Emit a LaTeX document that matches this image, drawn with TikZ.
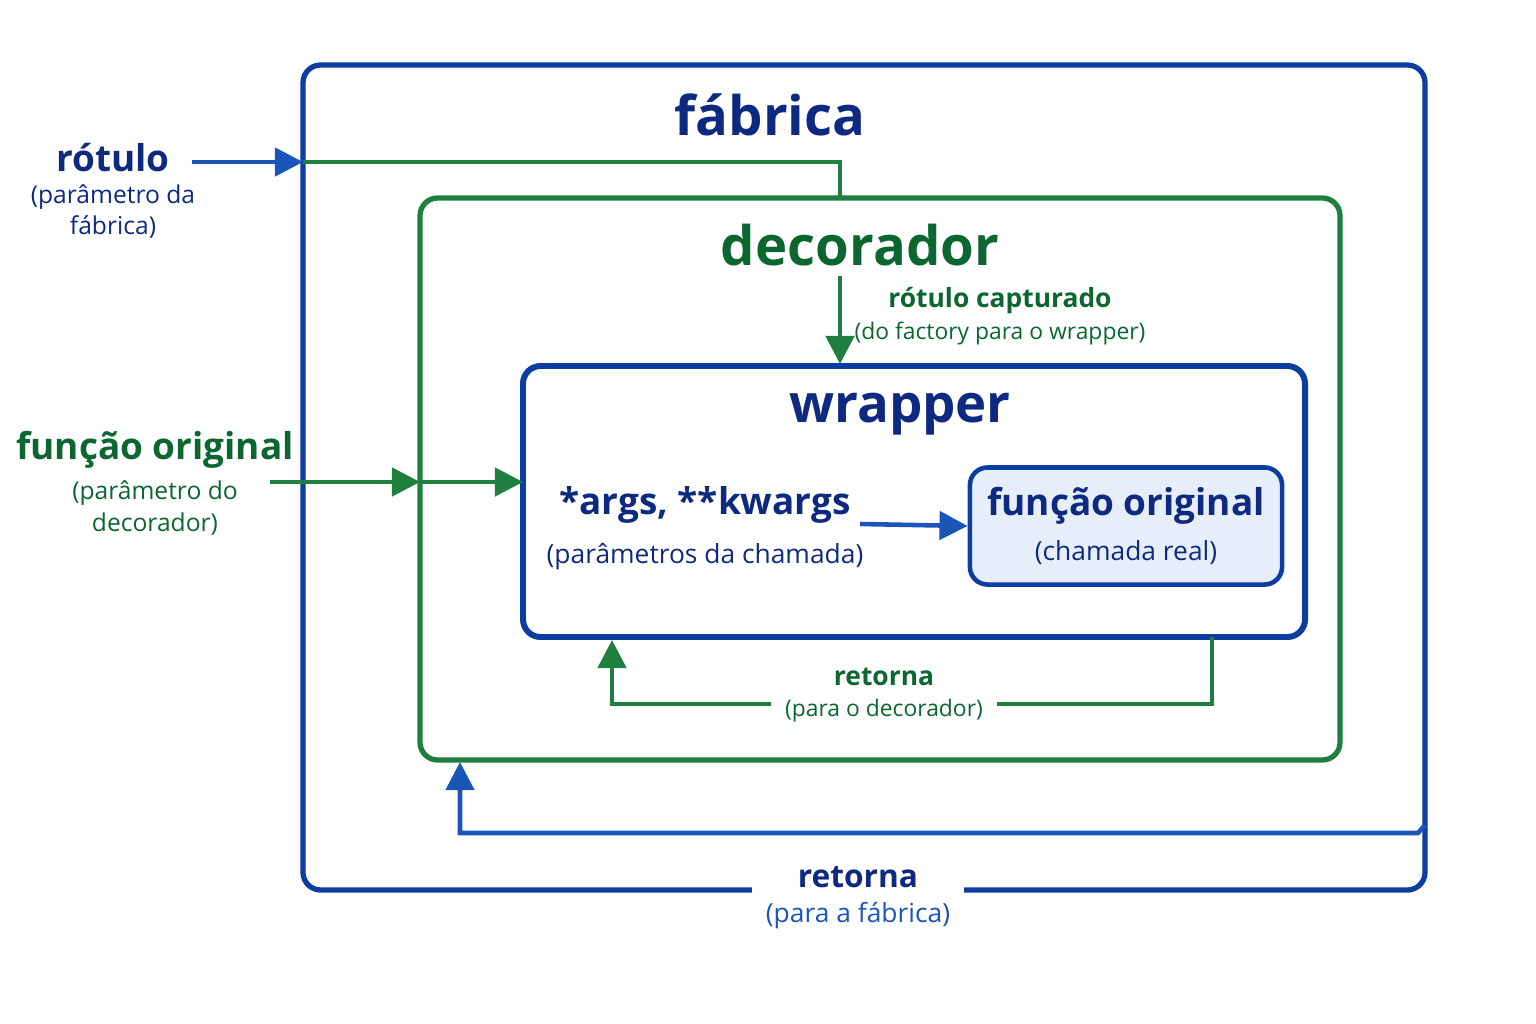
\documentclass[tikz,border=0pt]{standalone}
\usepackage{fontspec}
\setmainfont{Open Sans}
\usetikzlibrary{arrows.meta,positioning}
\definecolor{navy}{HTML}{0D2A80}
\definecolor{boxblue}{HTML}{0D3DA0}
\definecolor{flowblue}{HTML}{1A55B8}
\definecolor{deepgreen}{HTML}{0B6630}
\definecolor{boxgreen}{HTML}{1E7F3E}
\definecolor{paleblue}{HTML}{E6EEFA}
\begin{document}
\begin{tikzpicture}[x=0.01cm, y=-0.01cm,
    box/.style={draw, line width=1.5pt, rounded corners=5pt},
    flow/.style={line width=1.3pt, -{Triangle[length=8pt,width=8pt]}},
    link/.style={line width=1.3pt},
    title/.style={font=\bfseries\fontsize{15.5}{20}\selectfont},
    label/.style={align=center, inner sep=1pt, font=\fontsize{7}{9}\selectfont},
    every node/.style={inner sep=1pt}]
    \useasboundingbox (0,0) rectangle (1536,1024);

    % boxes
    \draw[box, boxblue] (303,65) rectangle (1425,890);
    \draw[box, boxgreen] (420,198) rectangle (1340,760);
    \draw[box, boxblue, line width=1.7pt] (523,366) rectangle (1305,637);
    \node (orig) [box, draw=boxblue, fill=paleblue, line width=1.3pt, inner sep=0pt,
        minimum width=3.12cm, minimum height=1.17cm, align=center] at (1126,526)
        {\bfseries\fontsize{10.5}{13}\selectfont\color{navy} função original\\[1pt]
         \fontsize{7.5}{9}\selectfont\color{navy}(chamada real)};

    % titles
    \node (fab) [title, navy] at (770,115) {fábrica};
    \node (dec) [title, deepgreen] at (860,245) {decorador};
    \node (wrp) [title, navy, font=\bfseries\fontsize{15}{18}\selectfont] at (900,414) {wrapper};

    % left inputs
    \node (rot) [navy, font=\bfseries\fontsize{10.5}{13}\selectfont] at (113,158) {rótulo};
    \node [label, navy, below=1pt of rot] {(parâmetro da\\fábrica)};
    \node (fun) [deepgreen, font=\bfseries\fontsize{10.5}{13}\selectfont] at (155,450) {função original};
    \node [label, deepgreen, below=1pt of fun] {(parâmetro do\\decorador)};

    \coordinate (rotIn) at (303,162);
    \coordinate (funIn) at (420,482);
    \draw[flow, flowblue] (192,162) -- (rotIn);
    \draw[link, boxgreen] (rotIn) -- (840,162) -- (840,198);
    \draw[flow, boxgreen] (270,482) -- (funIn);
    \draw[flow, boxgreen] (funIn) -- (523,482);

    % captured label
    \draw[flow, boxgreen] (840,276) -- (840,364);
    \node [deepgreen, align=center, font=\fontsize{7.5}{10}\selectfont] at (1000,316)
        {\bfseries rótulo capturado\\[-1pt]\fontsize{6.5}{9}\selectfont (do factory para o wrapper)};

    % call
    \node (args) [navy, align=center] at (705,528)
        {\bfseries\fontsize{10.5}{13}\selectfont *args, **kwargs\\[2pt]\fontsize{7.5}{9}\selectfont (parâmetros da chamada)};
    \draw[flow, flowblue] (860,524) -- (orig.west);

    % returns
    \draw[flow, boxgreen] (1212,637) -- (1212,704) -- (612,704) -- (612,640);
    \node [deepgreen, fill=white, align=center, inner sep=4pt] at (884,695)
        {\bfseries\fontsize{7.5}{10}\selectfont retorna\\[-3pt]\fontsize{6.5}{9}\selectfont (para o decorador)};
    \draw[flow, flowblue] (1425,825) -- (1418,833) -- (460,833) -- (460,762);
    \node [navy, fill=white, align=center, inner sep=4pt] at (858,898)
        {\bfseries\fontsize{9}{11}\selectfont retorna\\[-2pt]\fontsize{7.5}{9}\selectfont\color{flowblue}(para a fábrica)};
\end{tikzpicture}
\end{document}
